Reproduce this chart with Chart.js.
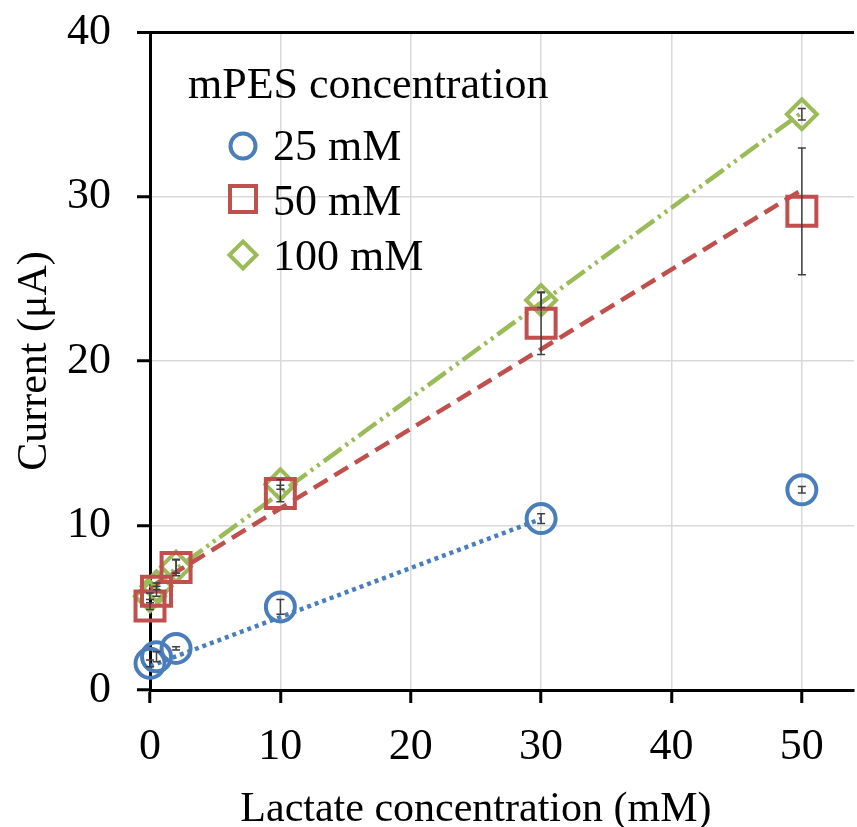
<!DOCTYPE html>
<html><head><meta charset="utf-8">
<script src="https://cdn.jsdelivr.net/npm/chart.js@4/dist/chart.umd.min.js"></script>
<style>html,body{margin:0;padding:0;background:#fff;}canvas{display:block;}</style>
</head><body>
<canvas id="c" width="857" height="827"></canvas>
<script>
// ---- data ----
const lactate = [0, 0.5, 2, 10, 30, 50];
const current25 = [1.62, 2.02, 2.53, 5.05, 10.42, 12.17];
const err25 = [0.2, 0.3, 0.1, 0.45, 0.3, 0.2];
const current50 = [5.1, 6.0, 7.45, 11.95, 22.3, 29.1];
const err50 = [0.2, 0.3, 0.5, 0.5, 1.9, 3.85];
const current100 = [5.7, 6.3, 7.5, 12.5, 23.7, 35.0];
const err100 = [0.2, 0.2, 0.4, 0.3, 0.45, 0.35];
// trendline endpoints
const trendX25 = [0, 30], trendY25 = [1.45, 10.4];
const trendX50 = [0, 50], trendY50 = [6.2, 30.4];
const trendX100 = [0, 50], trendY100 = [6.2, 35.1];
const seriesNames = ['25 mM', '50 mM', '100 mM'];
const legendTitle = 'mPES concentration';
const xTicks = [0, 10, 20, 30, 40, 50];
const yTicks = [0, 10, 20, 30, 40];
const xTitle = 'Lactate concentration (mM)';
const yTitle = 'Current (\u03bcA)';

const BLUE = '#4a7ebb', RED = '#c0504d', GREEN = '#9bbb59';
const FONT = "'Liberation Serif', 'Times New Roman', serif";

const pts = (xs, ys) => xs.map((x, i) => ({x: x, y: ys[i]}));

function markerSet(label, ys, errs, color, style, r) {
  return {
    type: 'line', label: label, data: pts(lactate, ys), errors: errs,
    showLine: false, pointStyle: style, pointRadius: r, pointHoverRadius: r,
    pointBorderWidth: 4, pointBorderColor: color, pointBackgroundColor: 'rgba(0,0,0,0)',
    borderColor: color, backgroundColor: 'rgba(0,0,0,0)', clip: false, order: 0
  };
}
function trendSet(xs, ys, color, dash) {
  return {
    type: 'line', label: '', data: pts(xs, ys), pointRadius: 0, borderColor: color,
    borderWidth: 4.5, borderDash: dash, fill: false, clip: false, order: 10, isTrend: true
  };
}

const errorBars = {
  id: 'errorBars',
  afterDatasetsDraw(chart) {
    const {ctx} = chart, x = chart.scales.x, y = chart.scales.y;
    ctx.save();
    ctx.strokeStyle = '#404040'; ctx.lineWidth = 1.5;
    chart.data.datasets.forEach(ds => {
      if (!ds.errors) return;
      ds.data.forEach((p, i) => {
        const e = ds.errors[i];
        const px = x.getPixelForValue(p.x);
        const t = y.getPixelForValue(p.y + e), b = y.getPixelForValue(p.y - e);
        ctx.beginPath();
        ctx.moveTo(px, t); ctx.lineTo(px, b);
        ctx.moveTo(px - 4, t); ctx.lineTo(px + 4, t);
        ctx.moveTo(px - 4, b); ctx.lineTo(px + 4, b);
        ctx.stroke();
      });
    });
    ctx.restore();
  }
};

function drawMarker(ctx, style, cx, cy, size, color) {
  ctx.save();
  ctx.strokeStyle = color; ctx.lineWidth = 4;
  ctx.beginPath();
  if (style === 'circle') ctx.arc(cx, cy, size, 0, Math.PI * 2);
  else if (style === 'rect') ctx.rect(cx - size, cy - size, size * 2, size * 2);
  else { ctx.moveTo(cx - size, cy); ctx.lineTo(cx, cy - size); ctx.lineTo(cx + size, cy); ctx.lineTo(cx, cy + size); ctx.closePath(); }
  ctx.stroke();
  ctx.restore();
}

const legendPlugin = {
  id: 'customLegend',
  afterDraw(chart) {
    const ctx = chart.ctx;
    ctx.save();
    ctx.fillStyle = '#000';
    ctx.font = '44px ' + FONT;
    ctx.textAlign = 'left'; ctx.textBaseline = 'alphabetic';
    ctx.fillText(legendTitle, 188, 98);
    const items = chart.data.datasets.filter(d => !d.isTrend);
    const rows = [{my: 146, by: 160, s: 12.5}, {my: 199, by: 215, s: 13}, {my: 255, by: 270, s: 13.5}];
    items.forEach((d, i) => {
      drawMarker(ctx, d.pointStyle, 243, rows[i].my, rows[i].s, d.pointBorderColor);
      ctx.fillStyle = '#000';
      ctx.fillText(d.label, 273, rows[i].by);
    });
    // x axis title, centred under the labelled tick range as in the reference
    const xs = chart.scales.x;
    const cx = (xs.getPixelForValue(xTicks[0]) + xs.getPixelForValue(xTicks[xTicks.length - 1])) / 2;
    ctx.font = '42px ' + FONT;
    ctx.textAlign = 'center';
    ctx.fillText(xTitle, cx, 821);
    ctx.restore();
  }
};

function noPad(s) { s.paddingTop = 0; s.paddingBottom = 0; s.paddingLeft = 0; s.paddingRight = 0; }

new Chart(document.getElementById('c'), {
  type: 'line',
  data: {
    datasets: [
      markerSet(seriesNames[0], current25, err25, BLUE, 'circle', 14.5),
      markerSet(seriesNames[1], current50, err50, RED, 'rect', 20.5),
      markerSet(seriesNames[2], current100, err100, GREEN, 'rectRot', 15),
      trendSet(trendX25, trendY25, BLUE, [4, 4]),
      trendSet(trendX50, trendY50, RED, [16, 8]),
      trendSet(trendX100, trendY100, GREEN, [22, 5, 3, 5, 3, 5])
    ]
  },
  options: {
    responsive: false, animation: false, devicePixelRatio: 1,
    layout: {autoPadding: false, padding: {top: 32, right: 3, left: 0, bottom: 0}},
    plugins: {legend: {display: false}, tooltip: {enabled: false}},
    scales: {
      x: {
        type: 'linear', min: 0, max: 54,
        afterBuildTicks: s => { s.ticks = xTicks.map(v => ({value: v})); },
        afterFit: s => { s.height = 137; noPad(s); },
        ticks: {font: {family: FONT, size: 44}, color: '#000', padding: 18, autoSkip: false, maxRotation: 0},
        grid: {color: '#d9d9d9', lineWidth: 1.5, tickLength: 13, tickColor: '#000', tickWidth: 3},
        border: {color: '#000', width: 3},
        title: {display: false}
      },
      y: {
        type: 'linear', min: 0, max: 40,
        afterBuildTicks: s => { s.ticks = yTicks.map(v => ({value: v})); },
        afterFit: s => { s.width = 150; noPad(s); },
        ticks: {font: {family: FONT, size: 44}, color: '#000', padding: 26},
        grid: {
          color: c => (c.tick && c.tick.value === 40) ? '#000' : '#d9d9d9',
          lineWidth: c => (c.tick && c.tick.value === 40) ? 3 : 1.5,
          tickLength: 13, tickColor: '#000', tickWidth: 3
        },
        border: {color: '#000', width: 3},
        title: {display: true, text: yTitle, color: '#000', font: {family: FONT, size: 42, lineHeight: 1.2}, padding: {top: 10, bottom: 0}}
      }
    }
  },
  plugins: [errorBars, legendPlugin]
});
</script>
</body></html>
